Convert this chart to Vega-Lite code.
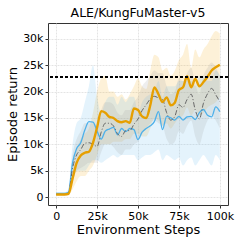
{
  "$schema": "https://vega.github.io/schema/vega-lite/v6.json",
  "width": 180,
  "height": 182,
  "autosize": {"type": "none"},
  "padding": {"left": 48, "top": 23, "right": 16, "bottom": 39},
  "title": {"text": "ALE/KungFuMaster-v5", "fontSize": 12.5, "fontWeight": "normal", "font": "DejaVu Sans", "offset": 4, "color": "#000"},
  "config": {
    "font": "DejaVu Sans",
    "view": {"stroke": "#333", "strokeWidth": 1},
    "axis": {
      "labelFont": "DejaVu Sans", "labelFontSize": 11, "labelColor": "#000",
      "titleFont": "DejaVu Sans", "titleFontSize": 13, "titleFontWeight": "normal", "titleColor": "#000",
      "domain": false, "tickColor": "#333", "tickSize": 3, "labelPadding": 2,
      "grid": true, "gridColor": "#dddddd", "gridDash": [2, 1], "gridWidth": 0.8
    }
  },
  "data": {"values": [
    {"s":"A","x":0,"y":500,"lo":300,"hi":700},
    {"s":"A","x":2500,"y":500,"lo":300,"hi":700},
    {"s":"A","x":5000,"y":500,"lo":300,"hi":700},
    {"s":"A","x":7500,"y":600,"lo":300,"hi":1000},
    {"s":"A","x":10000,"y":3500,"lo":1500,"hi":6000},
    {"s":"A","x":12500,"y":6500,"lo":3000,"hi":9000},
    {"s":"A","x":15000,"y":7900,"lo":4000,"hi":11000},
    {"s":"A","x":17500,"y":8400,"lo":4000,"hi":12000},
    {"s":"A","x":20000,"y":8600,"lo":5000,"hi":13000},
    {"s":"A","x":22500,"y":10300,"lo":6000,"hi":16000},
    {"s":"A","x":25000,"y":13200,"lo":8000,"hi":20000},
    {"s":"A","x":27500,"y":16300,"lo":10000,"hi":22500},
    {"s":"A","x":30000,"y":16000,"lo":10000,"hi":23000},
    {"s":"A","x":32500,"y":15200,"lo":10000,"hi":20000},
    {"s":"A","x":35000,"y":15000,"lo":10500,"hi":20000},
    {"s":"A","x":37500,"y":14400,"lo":10500,"hi":19000},
    {"s":"A","x":40000,"y":14200,"lo":10500,"hi":19500},
    {"s":"A","x":42500,"y":14400,"lo":11000,"hi":18500},
    {"s":"A","x":45000,"y":14100,"lo":11000,"hi":19500},
    {"s":"A","x":47500,"y":16800,"lo":12000,"hi":21000},
    {"s":"A","x":50000,"y":16500,"lo":12000,"hi":22500},
    {"s":"A","x":52500,"y":15300,"lo":11500,"hi":21000},
    {"s":"A","x":55000,"y":15000,"lo":11500,"hi":20500},
    {"s":"A","x":57500,"y":17400,"lo":13000,"hi":24000},
    {"s":"A","x":60000,"y":20800,"lo":15000,"hi":27000},
    {"s":"A","x":62500,"y":19500,"lo":14500,"hi":26500},
    {"s":"A","x":65000,"y":18000,"lo":13500,"hi":24000},
    {"s":"A","x":67500,"y":18900,"lo":14000,"hi":24500},
    {"s":"A","x":70000,"y":17400,"lo":13000,"hi":23000},
    {"s":"A","x":72500,"y":17900,"lo":14000,"hi":24000},
    {"s":"A","x":75000,"y":20300,"lo":15000,"hi":26000},
    {"s":"A","x":77500,"y":20800,"lo":15500,"hi":27000},
    {"s":"A","x":80000,"y":22900,"lo":17000,"hi":29000},
    {"s":"A","x":82500,"y":20800,"lo":15500,"hi":24500},
    {"s":"A","x":85000,"y":22400,"lo":16500,"hi":28000},
    {"s":"A","x":87500,"y":21000,"lo":15500,"hi":26500},
    {"s":"A","x":90000,"y":21800,"lo":16000,"hi":28000},
    {"s":"A","x":92500,"y":22800,"lo":17000,"hi":29000},
    {"s":"A","x":95000,"y":24000,"lo":17500,"hi":30500},
    {"s":"A","x":97500,"y":24600,"lo":18000,"hi":31500},
    {"s":"A","x":100000,"y":25100,"lo":19000,"hi":31000},
    {"s":"B","x":0,"y":700,"lo":500,"hi":900},
    {"s":"B","x":2500,"y":700,"lo":500,"hi":900},
    {"s":"B","x":5000,"y":700,"lo":500,"hi":900},
    {"s":"B","x":7500,"y":900,"lo":500,"hi":1500},
    {"s":"B","x":10000,"y":6500,"lo":3000,"hi":10000},
    {"s":"B","x":12500,"y":9200,"lo":5000,"hi":14000},
    {"s":"B","x":15000,"y":10300,"lo":5000,"hi":15000},
    {"s":"B","x":17500,"y":12700,"lo":5000,"hi":18000},
    {"s":"B","x":20000,"y":14300,"lo":6000,"hi":21000},
    {"s":"B","x":22500,"y":14200,"lo":7000,"hi":25000},
    {"s":"B","x":25000,"y":12500,"lo":7000,"hi":19000},
    {"s":"B","x":27500,"y":11000,"lo":6500,"hi":16000},
    {"s":"B","x":30000,"y":12500,"lo":7000,"hi":18000},
    {"s":"B","x":32500,"y":12900,"lo":7500,"hi":19000},
    {"s":"B","x":35000,"y":13200,"lo":8000,"hi":19000},
    {"s":"B","x":37500,"y":11800,"lo":7500,"hi":17500},
    {"s":"B","x":40000,"y":13000,"lo":8000,"hi":19000},
    {"s":"B","x":42500,"y":12400,"lo":8000,"hi":18000},
    {"s":"B","x":45000,"y":13000,"lo":8000,"hi":19000},
    {"s":"B","x":47500,"y":12800,"lo":8000,"hi":19000},
    {"s":"B","x":50000,"y":10900,"lo":7000,"hi":16000},
    {"s":"B","x":52500,"y":12300,"lo":7500,"hi":18000},
    {"s":"B","x":55000,"y":13000,"lo":8000,"hi":19000},
    {"s":"B","x":57500,"y":13500,"lo":8000,"hi":19500},
    {"s":"B","x":60000,"y":14300,"lo":8500,"hi":20000},
    {"s":"B","x":62500,"y":16200,"lo":9000,"hi":22000},
    {"s":"B","x":65000,"y":12800,"lo":7000,"hi":19000},
    {"s":"B","x":67500,"y":15300,"lo":8000,"hi":21000},
    {"s":"B","x":70000,"y":15000,"lo":7500,"hi":21000},
    {"s":"B","x":72500,"y":14600,"lo":7000,"hi":21000},
    {"s":"B","x":75000,"y":15300,"lo":7500,"hi":22000},
    {"s":"B","x":77500,"y":14600,"lo":6000,"hi":22000},
    {"s":"B","x":80000,"y":15200,"lo":7000,"hi":22000},
    {"s":"B","x":82500,"y":15300,"lo":7500,"hi":22000},
    {"s":"B","x":85000,"y":14700,"lo":6000,"hi":21000},
    {"s":"B","x":87500,"y":16000,"lo":7000,"hi":23000},
    {"s":"B","x":90000,"y":16600,"lo":8000,"hi":23000},
    {"s":"B","x":92500,"y":15500,"lo":7000,"hi":22000},
    {"s":"B","x":95000,"y":15200,"lo":6000,"hi":22000},
    {"s":"B","x":97500,"y":17100,"lo":8000,"hi":24000},
    {"s":"B","x":100000,"y":16200,"lo":7000,"hi":23000},
    {"s":"C","x":0,"y":500,"lo":300,"hi":700},
    {"s":"C","x":2500,"y":500,"lo":300,"hi":700},
    {"s":"C","x":5000,"y":500,"lo":300,"hi":700},
    {"s":"C","x":7500,"y":700,"lo":400,"hi":1000},
    {"s":"C","x":10000,"y":5500,"lo":3000,"hi":8000},
    {"s":"C","x":12500,"y":8000,"lo":5000,"hi":11000},
    {"s":"C","x":15000,"y":9000,"lo":5500,"hi":12500},
    {"s":"C","x":17500,"y":10200,"lo":6000,"hi":14000},
    {"s":"C","x":20000,"y":10300,"lo":6500,"hi":14000},
    {"s":"C","x":22500,"y":10000,"lo":6500,"hi":14000},
    {"s":"C","x":25000,"y":9600,"lo":6500,"hi":13500},
    {"s":"C","x":27500,"y":12300,"lo":8500,"hi":16500},
    {"s":"C","x":30000,"y":14000,"lo":10000,"hi":18000},
    {"s":"C","x":32500,"y":14000,"lo":10000,"hi":18000},
    {"s":"C","x":35000,"y":13500,"lo":9500,"hi":17500},
    {"s":"C","x":37500,"y":12000,"lo":8500,"hi":16000},
    {"s":"C","x":40000,"y":11500,"lo":8000,"hi":15500},
    {"s":"C","x":42500,"y":12600,"lo":9000,"hi":16500},
    {"s":"C","x":45000,"y":12600,"lo":9000,"hi":16500},
    {"s":"C","x":47500,"y":13800,"lo":10000,"hi":18000},
    {"s":"C","x":50000,"y":14800,"lo":10500,"hi":19000},
    {"s":"C","x":52500,"y":16400,"lo":12000,"hi":21000},
    {"s":"C","x":55000,"y":17500,"lo":13000,"hi":22000},
    {"s":"C","x":57500,"y":18600,"lo":14000,"hi":23000},
    {"s":"C","x":60000,"y":19100,"lo":14500,"hi":24000},
    {"s":"C","x":62500,"y":18800,"lo":14000,"hi":23500},
    {"s":"C","x":65000,"y":18500,"lo":13500,"hi":23500},
    {"s":"C","x":67500,"y":16000,"lo":11000,"hi":21000},
    {"s":"C","x":70000,"y":14600,"lo":10000,"hi":19500},
    {"s":"C","x":72500,"y":15300,"lo":10500,"hi":20000},
    {"s":"C","x":75000,"y":17500,"lo":12500,"hi":22500},
    {"s":"C","x":77500,"y":17000,"lo":12000,"hi":22000},
    {"s":"C","x":80000,"y":18500,"lo":13500,"hi":23500},
    {"s":"C","x":82500,"y":19500,"lo":14500,"hi":24500},
    {"s":"C","x":85000,"y":16500,"lo":11500,"hi":21500},
    {"s":"C","x":87500,"y":14800,"lo":10000,"hi":19500},
    {"s":"C","x":90000,"y":17800,"lo":12500,"hi":23000},
    {"s":"C","x":92500,"y":19600,"lo":14500,"hi":24500},
    {"s":"C","x":95000,"y":20600,"lo":15500,"hi":25500},
    {"s":"C","x":97500,"y":19400,"lo":14500,"hi":24500},
    {"s":"C","x":100000,"y":18100,"lo":13000,"hi":23000}
  ]},
  "layer": [
    {
      "encoding": {
        "x": {"field": "x", "type": "quantitative", "scale": {"domain": [-5000, 105000], "nice": false, "zero": false},
              "axis": {"values": [0, 25000, 50000, 75000, 100000], "labelExpr": "datum.value == 0 ? '0' : (datum.value / 1000) + 'k'", "title": "Environment Steps", "titlePadding": 2, "labelFlush": false}},
        "y": {"field": "y", "type": "quantitative", "scale": {"domain": [-1500, 33000], "nice": false, "zero": false},
              "axis": {"values": [0, 5000, 10000, 15000, 20000, 25000, 30000], "labelExpr": "datum.value == 0 ? '0' : (datum.value / 1000) + 'k'", "title": "Episode return", "titlePadding": 3, "labelFlush": false, "labelOverlap": false}}
      },
      "layer": [
        {
          "mark": {"type": "area", "interpolate": "monotone"},
          "encoding": {
            "y": {"field": "lo", "type": "quantitative"},
            "y2": {"field": "hi"},
            "color": {"field": "s", "type": "nominal", "scale": {"domain": ["A", "B", "C"], "range": ["#F5B83A", "#6EC0F0", "#9a9a9a"]}, "legend": null},
            "opacity": {"field": "s", "type": "nominal", "scale": {"domain": ["A", "B", "C"], "range": [0.2, 0.17, 0.12]}, "legend": null}
          }
        },
        {
          "transform": [{"filter": "datum.s == 'B'"}],
          "mark": {"type": "line", "color": "#4DB0EA", "strokeWidth": 1.3, "interpolate": "monotone"},
          "encoding": {}
        },
        {
          "transform": [{"filter": "datum.s == 'C'"}],
          "mark": {"type": "line", "color": "#666666", "strokeWidth": 1, "strokeDash": [5, 2, 1, 2], "interpolate": "monotone"},
          "encoding": {}
        },
        {
          "transform": [{"filter": "datum.s == 'A'"}],
          "mark": {"type": "line", "color": "#E69F00", "strokeWidth": 2.4, "interpolate": "monotone"},
          "encoding": {}
        }
      ]
    },
    {
      "mark": {"type": "rule", "color": "#000", "strokeWidth": 0.7, "strokeDash": [3, 2]},
      "encoding": {"y": {"datum": 22800, "type": "quantitative", "scale": {"domain": [-1500, 33000], "nice": false, "zero": false},
        "axis": {"values": [0, 5000, 10000, 15000, 20000, 25000, 30000], "labelExpr": "datum.value == 0 ? '0' : (datum.value / 1000) + 'k'", "title": "Episode return", "titlePadding": 3, "labelFlush": false, "labelOverlap": false}}}
    }
  ]
}
